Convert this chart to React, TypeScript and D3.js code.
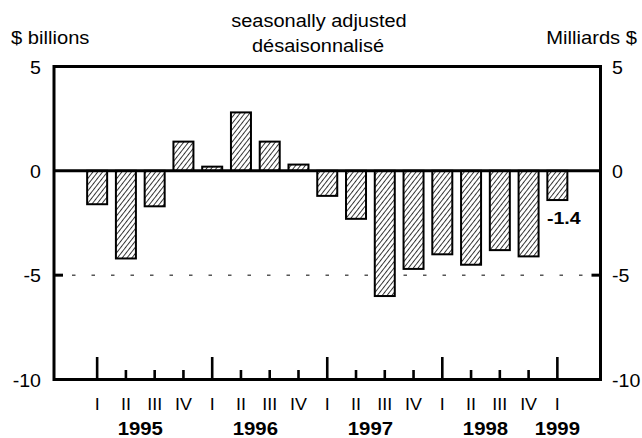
import React from "react";
import * as d3 from "d3";

const quarterLabels = ["I","II","III","IV","I","II","III","IV","I","II","III","IV","I","II","III","IV","I"];
const values = [-1.6, -4.2, -1.7, 1.4, 0.2, 2.8, 1.4, 0.3, -1.2, -2.3, -6.0, -4.7, -4.0, -4.5, -3.8, -4.1, -1.4];
const yearLabels = ["1995", "1996", "1997", "1998", "1999"];
const yearCenters = [1.5, 5.5, 9.5, 13.5, 16];
const yTicks = [5, 0, -5, -10];
const lastLabel = "-1.4";

const FONT = "'Liberation Sans', Arial, Helvetica, sans-serif";

function Txt({ x, y, children, anchor = "start", size = 18, bold = false, sx = 1.12 }: any) {
  return (
    <text
      transform={`translate(${x},${y}) scale(${sx},1)`}
      textAnchor={anchor}
      fontSize={size}
      fontWeight={bold ? "bold" : "normal"}
      fontFamily={FONT}
      fill="#000"
    >
      {children}
    </text>
  );
}

export default function App() {
  const left = 54, right = 600.5;
  const x = d3.scaleLinear().domain([-1.5, 17.5]).range([left, right]);
  const y = d3.scaleLinear().domain([5, -10]).range([66.5, 379.5]);
  const barW = 20;

  return (
    <svg width={642} height={438} style={{ position: "absolute", left: 0, top: 0, background: "#fff" }}>
      <defs>
        <pattern id="hatch" patternUnits="userSpaceOnUse" width={3.8} height={10} patternTransform="rotate(38)">
          <rect width={3.8} height={10} fill="#fff" />
          <line x1={0.5} y1={0} x2={0.5} y2={10} stroke="#000" strokeWidth={0.8} />
        </pattern>
      </defs>
      <rect width={642} height={438} fill="#fff" />

      {/* titles */}
      <Txt x={319} y={27} anchor="middle" size={18.5} sx={1.08}>seasonally adjusted</Txt>
      <Txt x={318} y={52} anchor="middle" size={18.5} sx={1.08}>désaisonnalisé</Txt>
      <Txt x={11} y={44} size={18}>$ billions</Txt>
      <Txt x={637} y={44} anchor="end" size={18}>Milliards $</Txt>

      {/* dashed line at -5 */}
      <line x1={72} x2={right - 4} y1={y(-5)} y2={y(-5)} stroke="#000" strokeWidth={1} strokeDasharray="3.5 16" />

      {/* bars */}
      {values.map((v, i) => (
        <rect
          key={i}
          x={x(i) - barW / 2}
          y={y(Math.max(0, v))}
          width={barW}
          height={Math.abs(y(v) - y(0))}
          fill="url(#hatch)"
          stroke="#000"
          strokeWidth={2}
        />
      ))}

      {/* frame */}
      <line x1={left} x2={right} y1={y(5)} y2={y(5)} stroke="#000" strokeWidth={3} />
      <line x1={left} x2={right} y1={y(-10)} y2={y(-10)} stroke="#000" strokeWidth={3} />
      <line x1={left} x2={right} y1={y(0)} y2={y(0)} stroke="#000" strokeWidth={3} />
      <line x1={left} x2={left} y1={y(5) - 1.5} y2={y(-10) + 1.5} stroke="#000" strokeWidth={3} />
      <line x1={right} x2={right} y1={y(5) - 1.5} y2={y(-10) + 1.5} stroke="#000" strokeWidth={3} />
      <line x1={left} x2={left + 9} y1={y(-5)} y2={y(-5)} stroke="#000" strokeWidth={3} />
      <line x1={right - 9} x2={right} y1={y(-5)} y2={y(-5)} stroke="#000" strokeWidth={3} />

      {/* y labels */}
      {yTicks.map((t) => (
        <g key={t}>
          <Txt x={41} y={y(t) + 7} anchor="end" size={17.5}>{String(t)}</Txt>
          <Txt x={612} y={y(t) + 7} size={17.5}>{String(t)}</Txt>
        </g>
      ))}

      {/* x ticks */}
      {quarterLabels.map((q, i) => (
        <line
          key={i}
          x1={x(i)}
          x2={x(i)}
          y1={q === "I" ? 357 : 370}
          y2={y(-10)}
          stroke="#000"
          strokeWidth={2.6}
        />
      ))}
      {quarterLabels.map((q, i) => (
        <Txt key={i} x={x(i)} y={410} anchor="middle" size={16} sx={1.12}>{q}</Txt>
      ))}
      {yearLabels.map((yr, i) => (
        <Txt key={yr} x={x(yearCenters[i])} y={434.5} anchor="middle" size={18.5} bold sx={1.1}>{yr}</Txt>
      ))}

      {/* value label */}
      <Txt x={547} y={224} size={17} bold sx={1.15}>{lastLabel}</Txt>
    </svg>
  );
}
